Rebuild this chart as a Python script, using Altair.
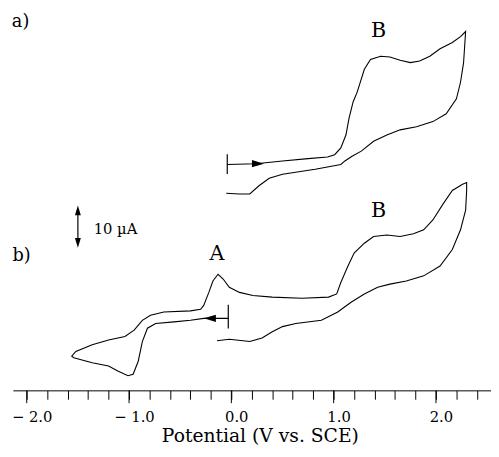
import altair as alt
import pandas as pd

# ---- trace a) : potential (V vs. SCE), current (µA, arbitrary offset) ----
a_potential = [-0.04, 0.24, 0.50, 0.75, 0.94, 1.01, 1.07, 1.12, 1.15, 1.19, 1.23, 1.30,
               1.36, 1.46, 1.55, 1.65, 1.75, 1.84, 1.94, 2.04, 2.16, 2.24, 2.29,
               2.27, 2.24, 2.20, 2.10, 1.97, 1.81, 1.65, 1.52, 1.39, 1.27, 1.18, 1.11,
               1.07, 0.82, 0.50, 0.37, 0.27, 0.18, 0.08, -0.05]
a_current = [57.4, 57.6, 58.3, 58.9, 59.3, 59.9, 61.6, 64.9, 69.1, 73.3, 75.8, 81.6,
             84.1, 84.9, 84.7, 83.9, 83.3, 83.7, 84.9, 86.8, 88.4, 89.9, 91.2,
             83.3, 78.3, 74.1, 70.3, 68.3, 67.0, 66.2, 64.9, 63.3, 60.8, 59.5, 58.3,
             57.4, 56.2, 54.9, 53.9, 52.0, 49.9, 49.9, 50.1]

# ---- trace b) ----
b_potential = [-0.03, -0.19, -0.27, -0.40, -0.56, -0.74, -0.82, -0.87, -0.91, -0.96, -1.01,
               -1.11, -1.20, -1.36, -1.54, -1.56,
               -1.52, -1.36, -1.20, -1.04, -0.95, -0.87, -0.79, -0.66, -0.40, -0.30, -0.27,
               -0.22, -0.18, -0.13, -0.08, -0.02, 0.08, 0.21, 0.40, 0.69, 0.95, 1.03, 1.07,
               1.14, 1.20, 1.30, 1.39, 1.52, 1.65, 1.78, 1.88, 1.97, 2.07, 2.16, 2.26, 2.30,
               2.30, 2.29, 2.24, 2.16, 2.04, 1.88, 1.71, 1.55, 1.43, 1.30, 1.17, 1.04, 0.88,
               0.63, 0.50, 0.40, 0.30, 0.18, -0.02, -0.14]
b_current = [18.3, 18.3, 18.3, 17.8, 17.4, 17.0, 15.8, 12.4, 7.4, 4.1, 3.7,
             4.9, 6.2, 7.0, 8.3, 8.7,
             9.9, 11.6, 12.8, 13.7, 15.3, 17.8, 19.1, 19.9, 20.2, 20.6, 21.6,
             24.9, 27.8, 29.5, 28.3, 26.2, 24.9, 24.1, 23.7, 23.4, 23.7, 24.5, 27.4,
             31.6, 34.9, 37.4, 39.1, 39.5, 39.1, 39.8, 40.8, 43.3, 47.4, 50.8, 52.4, 52.8,
             50.8, 45.8, 40.8, 35.8, 31.6, 29.1, 27.8, 27.0, 26.2, 24.5, 22.4, 19.9, 17.8,
             17.0, 16.2, 14.9, 13.3, 12.4, 13.0, 12.6]

# start-of-scan bars and direction arrows
start_potential = [-0.04, -0.03]
start_low = [55.0, 15.75]
start_high = [60.0, 21.75]
arrow_right = {"v": [0.26], "i": [57.6]}
arrow_left = {"v": [-0.21], "i": [18.3]}

# 10 µA scale bar
scale_v = [-1.50]
scale_low = [37.5]
scale_high = [45.75]

# x-axis ticks
minor_ticks = [round(-2.0 + 0.2 * k, 1) for k in range(23)]
major_ticks = [-2.0, -1.0, 0.0, 1.0, 2.0]

# annotations
ann_text = ["a)", "b)", "B", "B", "A"]
ann_v = [-2.06, -2.05, 1.44, 1.44, -0.14]
ann_i = [93.5, 34.0, 91.3, 45.5, 34.6]
ann_size = [18, 18, 21, 21, 21]

rows = []
for k, (v, i) in enumerate(zip(a_potential, a_current)):
    rows.append({"trace": "a", "idx": k, "v": v, "i": i})
for k, (v, i) in enumerate(zip(b_potential, b_current)):
    rows.append({"trace": "b", "idx": k, "v": v, "i": i})
curves = pd.DataFrame(rows)

W, H = 486, 385
x_scale = alt.Scale(domain=[-2.135, 2.538], nice=False, zero=False)
y_scale = alt.Scale(domain=[0, 96.25], nice=False, zero=False)

label_expr = ("abs(datum.value - round(datum.value)) < 0.01 ? "
              "(datum.value < -0.01 ? '\u2212 ' + format(-datum.value, '.1f') : format(datum.value, '.1f')) : ''")

x_axis = alt.Axis(values=minor_ticks, tickSize=9, tickColor="black", tickWidth=1,
                  domainColor="black", domainWidth=1, grid=False,
                  labelExpr=label_expr, labelFont="DejaVu Serif", labelFontSize=15,
                  labelColor="black", labelPadding=11, labelOverlap=False, labelFlush=False,
                  labelOffset=5,
                  title="Potential (V vs. SCE)", titleFont="DejaVu Serif", titleFontSize=19,
                  titleFontWeight="normal", titleColor="black", titlePadding=2, titleX=251)

X = alt.X("v:Q", scale=x_scale, axis=x_axis)
Y = alt.Y("i:Q", scale=y_scale, axis=None)

lines = alt.Chart(curves).mark_line(color="black", strokeWidth=1.1).encode(
    x=X, y=Y, detail="trace:N", order="idx:Q")

bars = alt.Chart(pd.DataFrame({"v": start_potential, "i": start_low, "i2": start_high})).mark_rule(
    color="black", strokeWidth=1.2).encode(x=X, y=Y, y2="i2:Q")

arrow_shape_r = "M-1,-0.6L1,0L-1,0.6Z"
arrow_shape_l = "M1,-0.6L-1,0L1,0.6Z"
arr_r = alt.Chart(pd.DataFrame(arrow_right)).mark_point(
    shape=arrow_shape_r, filled=True, color="black", size=150, opacity=1).encode(x=X, y=Y)
arr_l = alt.Chart(pd.DataFrame(arrow_left)).mark_point(
    shape=arrow_shape_l, filled=True, color="black", size=150, opacity=1).encode(x=X, y=Y)

scale_df = pd.DataFrame({"v": scale_v, "i": scale_low, "i2": scale_high})
scale_rule = alt.Chart(scale_df).mark_rule(color="black", strokeWidth=1.2).encode(x=X, y=Y, y2="i2:Q")
head_up = alt.Chart(pd.DataFrame({"v": scale_v, "i": scale_high})).mark_point(
    shape="M0,-1L0.6,1L-0.6,1Z", filled=True, color="black", size=100, opacity=1).encode(x=X, y=Y)
head_dn = alt.Chart(pd.DataFrame({"v": scale_v, "i": scale_low})).mark_point(
    shape="M0,1L0.6,-1L-0.6,-1Z", filled=True, color="black", size=100, opacity=1).encode(x=X, y=Y)
scale_text = alt.Chart(pd.DataFrame({"v": [-1.346], "i": [41.0], "t": ["10 \u00b5A"]})).mark_text(
    font="DejaVu Serif", fontSize=15, color="black", align="left", baseline="middle").encode(
    x=X, y=Y, text="t:N")

majors = alt.Chart(pd.DataFrame({"v": major_ticks})).mark_rule(color="black", strokeWidth=1).encode(
    x=X, y=alt.value(H), y2=alt.value(H + 13))

ann = alt.Chart(pd.DataFrame({"v": ann_v, "i": ann_i, "t": ann_text, "fs": ann_size})).mark_text(
    font="DejaVu Serif", color="black", align="center", baseline="middle").encode(
    x=X, y=Y, text="t:N", size=alt.Size("fs:Q", scale=None, legend=None))

chart = alt.layer(lines, bars, arr_r, arr_l, scale_rule, head_up, head_dn, scale_text, majors, ann).properties(
    width=W, height=H,
    autosize=alt.AutoSizeParams(type="none"),
    padding={"left": 5, "top": 0, "right": 0, "bottom": 60},
    background="white",
).configure_view(stroke=None)

chart.save("out.html", embed_options={"renderer": "svg", "actions": False})
